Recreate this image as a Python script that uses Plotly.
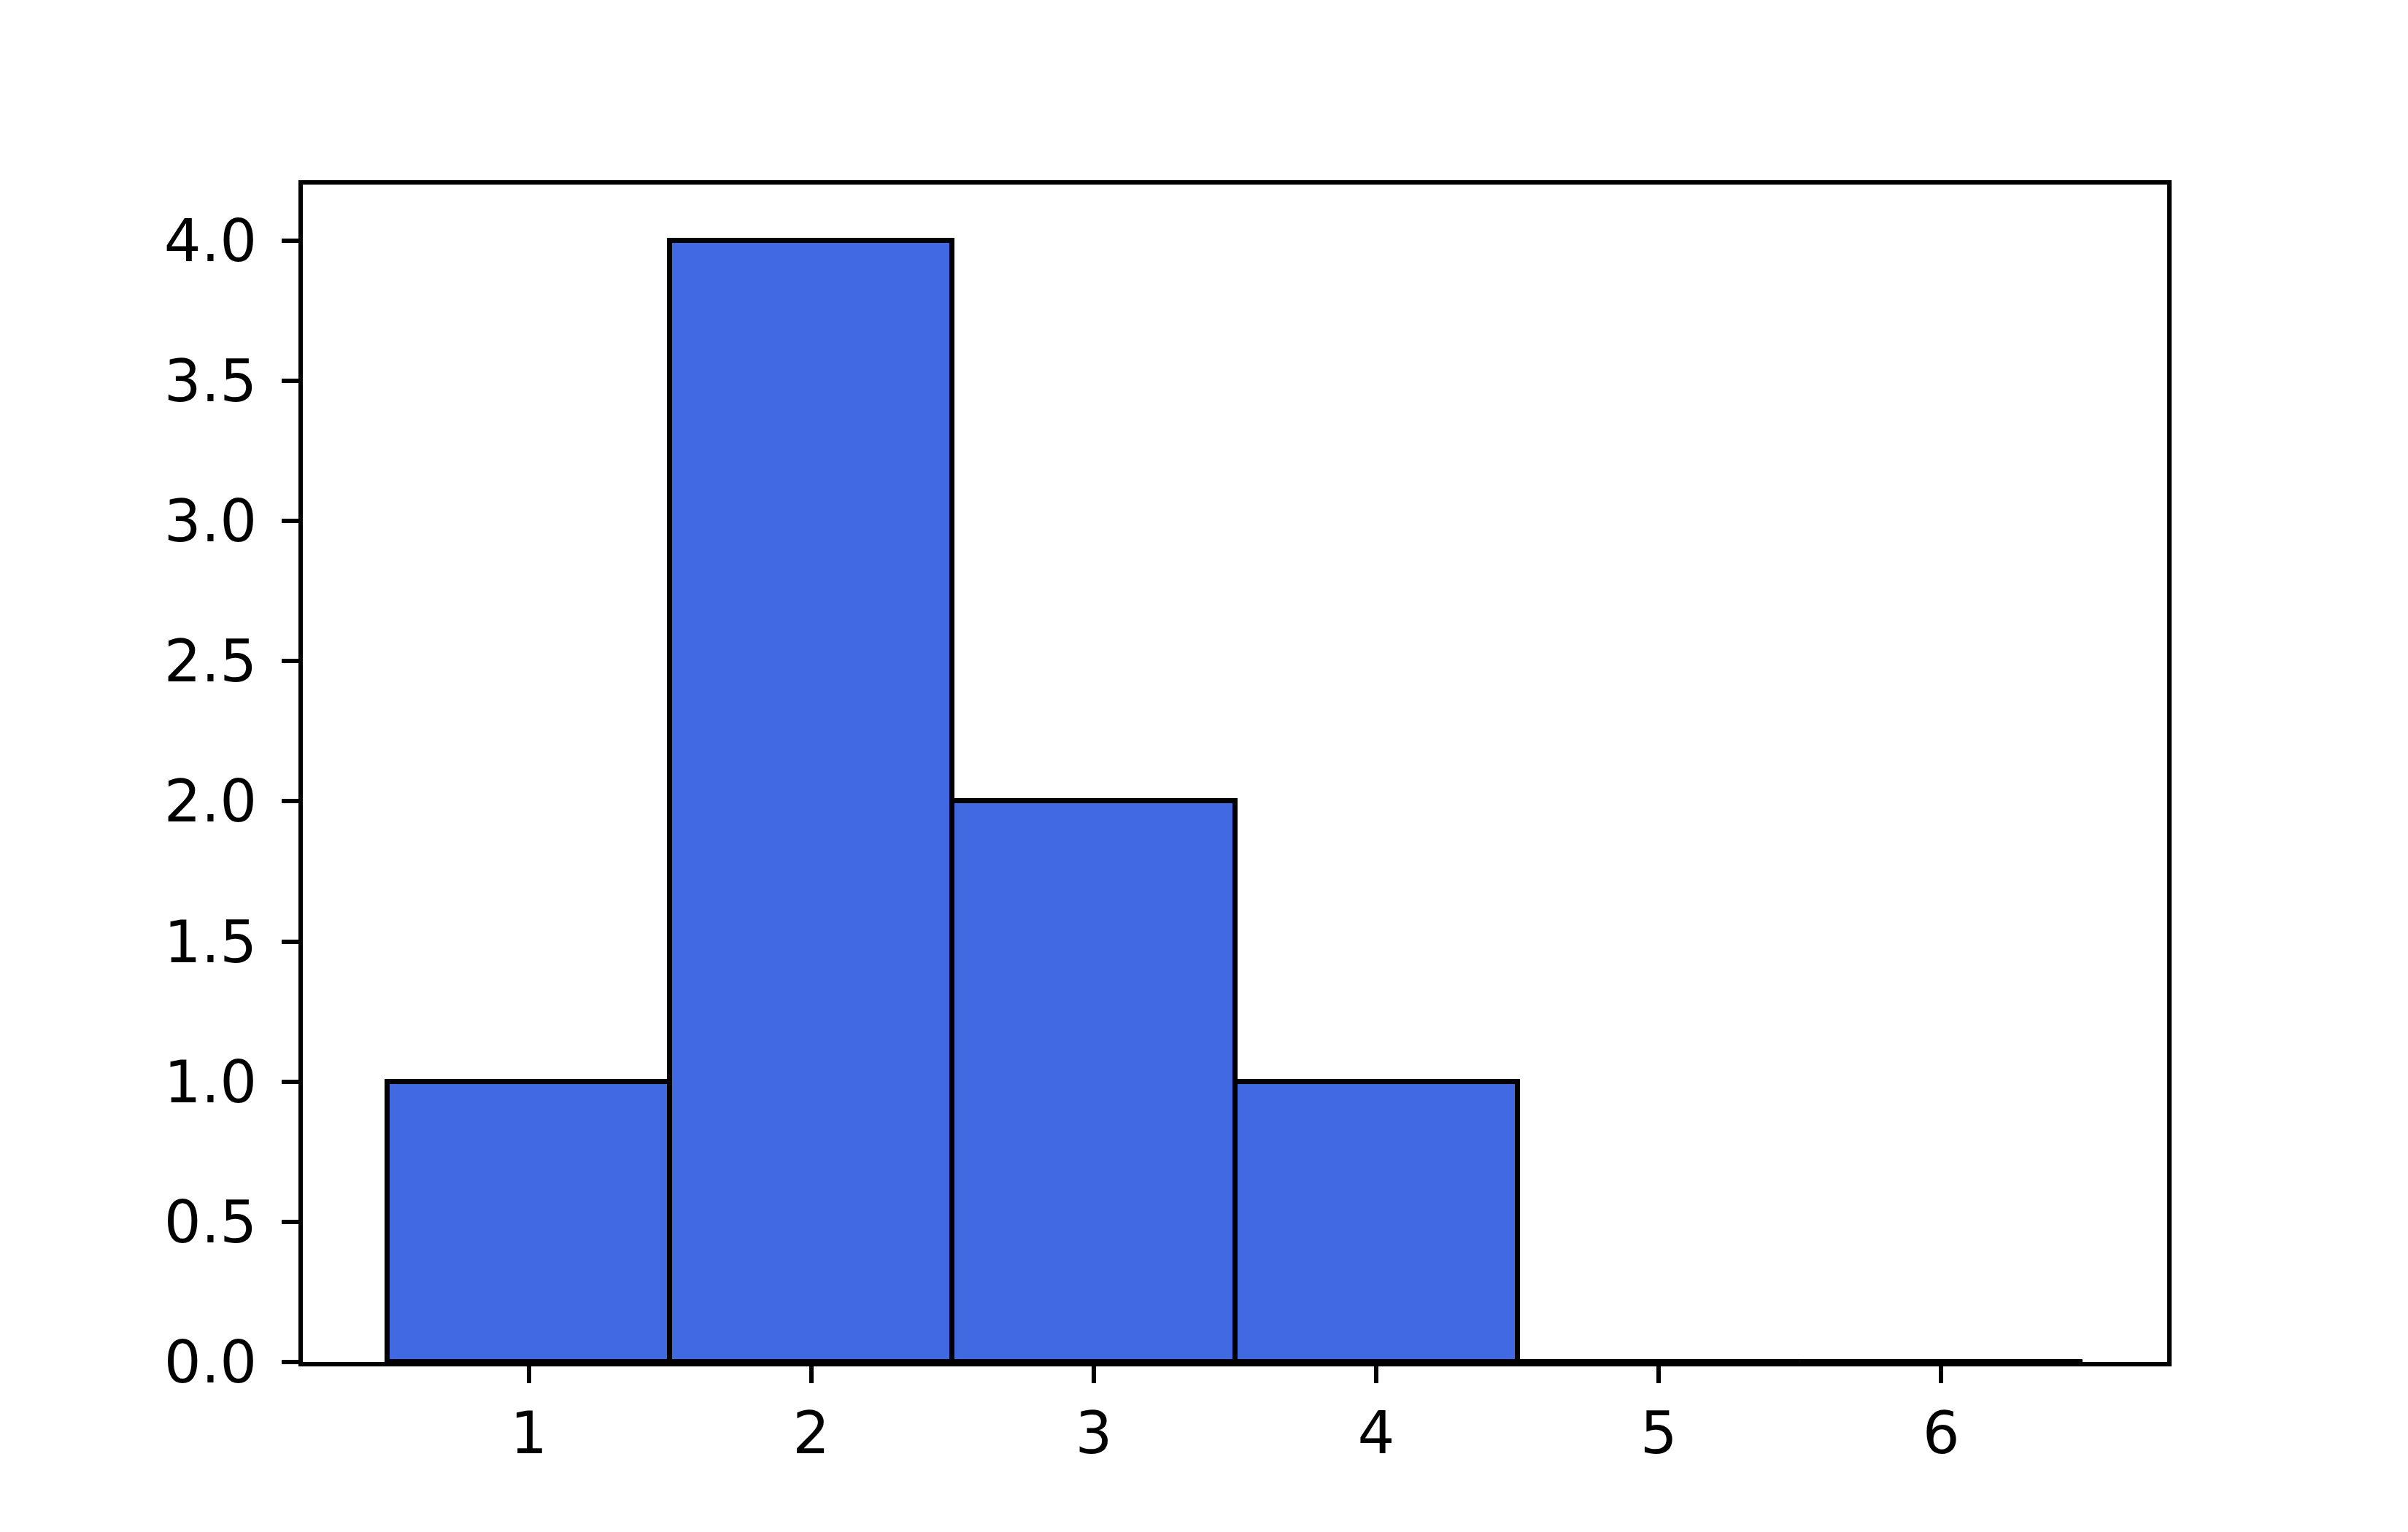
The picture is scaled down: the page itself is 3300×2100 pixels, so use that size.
import plotly.graph_objects as go

# Data
bin_centers = [1, 2, 3, 4, 5, 6]
counts = [1, 4, 2, 1, 0, 0]
x_ticks = [1, 2, 3, 4, 5, 6]
y_ticks = [0.0, 0.5, 1.0, 1.5, 2.0, 2.5, 3.0, 3.5, 4.0]
bar_width = 1.0

W, H = 3300, 2100
OFF = 8  # default page body margin offset
L, R, T, B = 414.6, 2969.6, 252.6, 1866.8

fig = go.Figure()
fig.add_trace(go.Bar(
    x=bin_centers, y=counts, width=bar_width,
    marker=dict(color="#4169E1", line=dict(color="black", width=7)),
    showlegend=False,
))
# zero-height bins: matplotlib still draws their edge along the baseline
for c, v in zip(bin_centers, counts):
    if v == 0:
        fig.add_trace(go.Scatter(
            x=[c - bar_width / 2, c + bar_width / 2], y=[v, v], mode="lines",
            line=dict(color="black", width=7), showlegend=False, hoverinfo="skip",
            cliponaxis=False,
        ))

axis_common = dict(
    showline=True, linecolor="black", linewidth=5.8, mirror=True,
    ticks="outside", ticklen=23, tickwidth=5.5, tickcolor="black",
    showgrid=False, zeroline=False,
    tickfont=dict(family="DejaVu Sans", size=80, color="black"),
)
fig.update_xaxes(range=[0.2, 6.8], tickmode="array", tickvals=x_ticks,
                 ticktext=[str(v) for v in x_ticks], ticklabelstandoff=0, **axis_common)
fig.update_yaxes(range=[0, 4.2], tickmode="array", tickvals=y_ticks,
                 ticktext=[f"{v:.1f}" for v in y_ticks], ticklabelstandoff=18, **axis_common)

fig.update_layout(
    width=W, height=H,
    margin=dict(l=L - OFF, r=W - R + OFF, t=T - OFF, b=H - B + OFF, pad=0),
    paper_bgcolor="white", plot_bgcolor="white",
    bargap=0,
)
fig.write_html("out.html")
